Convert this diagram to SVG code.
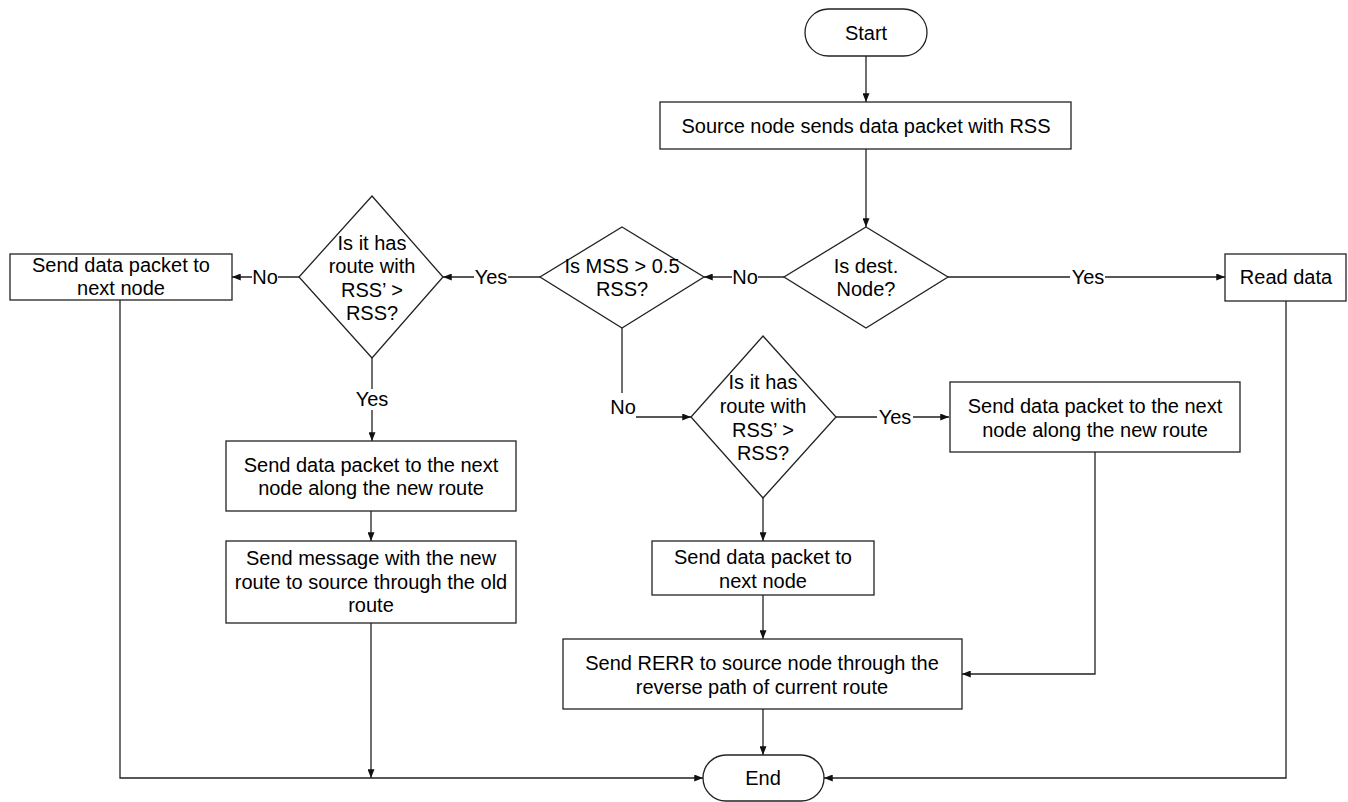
<svg xmlns="http://www.w3.org/2000/svg" width="1348" height="802" viewBox="0 0 1348 802">
<style>
.shape{fill:#fff;stroke:#222;stroke-width:1.3}
.conn{fill:none;stroke:#222;stroke-width:1.3}
text{font-family:"Liberation Sans",Arial,sans-serif;font-size:20px;fill:#000;text-anchor:middle}
</style>
<defs>
<marker id="arr" viewBox="0 0 10 8" markerUnits="userSpaceOnUse" markerWidth="9" markerHeight="7" refX="10" refY="4" orient="auto">
<path d="M0,0 L10,4 L0,8 z" fill="#111"/>
</marker>
</defs>
<rect width="1348" height="802" fill="#fff"/>
<g id="connectors">
<path class="conn" d="M866,56 V102" marker-end="url(#arr)"/>
<path class="conn" d="M866,149 V227" marker-end="url(#arr)"/>
<path class="conn" d="M784,277 H758 M732,277 H704" marker-end="url(#arr)"/>
<path class="conn" d="M948,277 H1070 M1105,277 H1225" marker-end="url(#arr)"/>
<path class="conn" d="M540,277 H508 M474,277 H443" marker-end="url(#arr)"/>
<path class="conn" d="M299,277 H278 M252,277 H232" marker-end="url(#arr)"/>
<path class="conn" d="M372,358 V389 M372,410 V441" marker-end="url(#arr)"/>
<path class="conn" d="M371,511 V541" marker-end="url(#arr)"/>
<path class="conn" d="M371,623 V778" marker-end="url(#arr)"/>
<path class="conn" d="M120,300 V778 H703" marker-end="url(#arr)"/>
<path class="conn" d="M622,328 V393 M636,417 H691" marker-end="url(#arr)"/>
<path class="conn" d="M836,417 H877 M913,417 H949" marker-end="url(#arr)"/>
<path class="conn" d="M763,498 V541" marker-end="url(#arr)"/>
<path class="conn" d="M763,595 V639" marker-end="url(#arr)"/>
<path class="conn" d="M763,709 V755" marker-end="url(#arr)"/>
<path class="conn" d="M1095,452 V674 H962" marker-end="url(#arr)"/>
<path class="conn" d="M1286,301 V778 H824" marker-end="url(#arr)"/>
<text x="745" y="284">No</text>
<text x="1088" y="284">Yes</text>
<text x="491" y="284">Yes</text>
<text x="265" y="284">No</text>
<text x="372" y="406">Yes</text>
<text x="623" y="414">No</text>
<text x="895" y="424">Yes</text>
</g>
<g id="start">
<rect class="shape" x="805" y="9" width="122" height="47" rx="23.5"/>
<text x="866" y="40">Start</text>
</g>
<g id="source">
<rect class="shape" x="660" y="102" width="411" height="47"/>
<text x="866" y="133">Source node sends data packet with RSS</text>
</g>
<g id="dest">
<polygon class="shape" points="866,227 948,277 866,328 784,277"/>
<text x="866" y="273">Is dest.</text>
<text x="866" y="296">Node?</text>
</g>
<g id="mss">
<polygon class="shape" points="622,227 704,277 622,328 540,277"/>
<text x="622" y="273">Is MSS &gt; 0.5</text>
<text x="622" y="296">RSS?</text>
</g>
<g id="route-left">
<polygon class="shape" points="372,196 443,277 372,358 299,277"/>
<text x="372" y="250">Is it has</text>
<text x="372" y="273">route with</text>
<text x="372" y="297">RSS’ &gt;</text>
<text x="372" y="320">RSS?</text>
</g>
<g id="send-next-left">
<rect class="shape" x="10" y="254" width="222" height="46"/>
<text x="121" y="272">Send data packet to</text>
<text x="121" y="295">next node</text>
</g>
<g id="read-data">
<rect class="shape" x="1225" y="254" width="121" height="47"/>
<text x="1286" y="284">Read data</text>
</g>
<g id="send-new-left">
<rect class="shape" x="226" y="441" width="290" height="70"/>
<text x="371" y="472">Send data packet to the next</text>
<text x="371" y="495">node along the new route</text>
</g>
<g id="send-message">
<rect class="shape" x="226" y="541" width="290" height="82"/>
<text x="371" y="565">Send message with the new</text>
<text x="371" y="589">route to source through the old</text>
<text x="371" y="612">route</text>
</g>
<g id="route-mid">
<polygon class="shape" points="763,336 836,417 763,498 691,417"/>
<text x="763" y="389">Is it has</text>
<text x="763" y="413">route with</text>
<text x="763" y="437">RSS’ &gt;</text>
<text x="763" y="460">RSS?</text>
</g>
<g id="send-new-right">
<rect class="shape" x="950" y="382" width="290" height="70"/>
<text x="1095" y="413">Send data packet to the next</text>
<text x="1095" y="437">node along the new route</text>
</g>
<g id="send-next-mid">
<rect class="shape" x="652" y="541" width="222" height="54"/>
<text x="763" y="564">Send data packet to</text>
<text x="763" y="588">next node</text>
</g>
<g id="rerr">
<rect class="shape" x="563" y="639" width="399" height="70"/>
<text x="762" y="670">Send RERR to source node through the</text>
<text x="762" y="694">reverse path of current route</text>
</g>
<g id="end">
<rect class="shape" x="703" y="755" width="121" height="46" rx="23"/>
<text x="763" y="785">End</text>
</g>
</svg>
